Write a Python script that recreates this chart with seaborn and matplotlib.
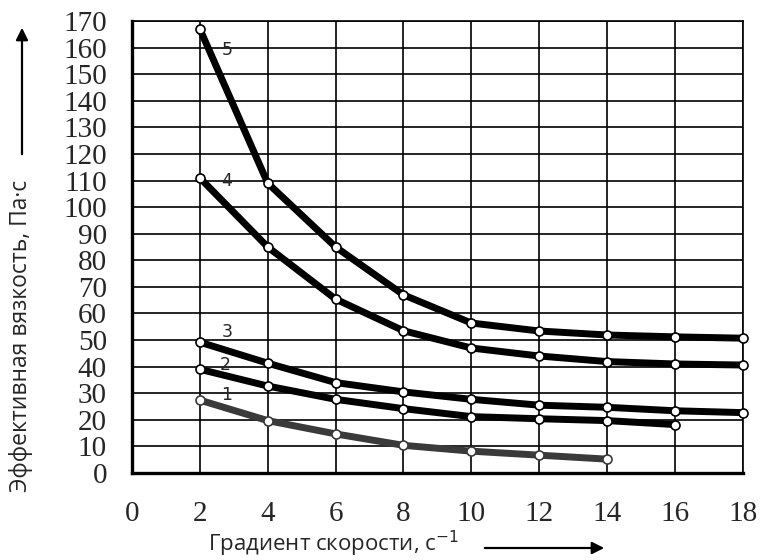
import seaborn as sns
import matplotlib.pyplot as plt
import pandas as pd

# Данные
x_vals = [2, 4, 6, 8, 10, 12, 14, 16, 18]
curve1 = [27.4, 19.7, 14.7, 10.4, 8.2, 6.7, 5.2]
curve2 = [39.0, 32.7, 27.7, 24.2, 21.2, 20.4, 19.7, 18.2]
curve3 = [49.2, 41.3, 34.0, 30.5, 27.7, 25.5, 24.7, 23.4, 22.7]
curve4 = [111.0, 85.0, 65.4, 53.5, 47.0, 44.0, 41.9, 41.0, 40.6]
curve5 = [167.0, 109.0, 85.0, 67.0, 56.4, 53.4, 51.9, 51.2, 50.7]
curve_names = ["1", "2", "3", "4", "5"]
x_ticks = list(range(0, 19, 2))
y_ticks = list(range(0, 171, 10))

rows = []
for name, vals in zip(curve_names, [curve1, curve2, curve3, curve4, curve5]):
    for xv, yv in zip(x_vals, vals):
        rows.append({"x": xv, "y": yv, "curve": name})
df = pd.DataFrame(rows)

sns.set_style("white")

fig = plt.figure(figsize=(7.65, 5.6), dpi=100)
ax = fig.add_axes([0.1725, 0.1554, 0.7985, 0.8071])

colors = {"1": "#3a3a3a", "2": "black", "3": "black", "4": "black", "5": "black"}
for name in curve_names:
    sub = df[df["curve"] == name]
    sns.lineplot(data=sub, x="x", y="y", ax=ax, color=colors[name], lw=5,
                 marker="o", markersize=6.5, markerfacecolor="white",
                 markeredgecolor=colors[name], markeredgewidth=1.2,
                 zorder=3, clip_on=False)

# подписи кривых
label_pos = {"1": (2.8, 29.5), "2": (2.75, 40.5), "3": (2.8, 53), "4": (2.8, 110), "5": (2.8, 159)}
for name, (lx, ly) in label_pos.items():
    ax.text(lx, ly, name, fontsize=12.5, family="DejaVu Sans", ha="center", va="center", zorder=4)

ax.set_xlim(0, 18)
ax.set_ylim(0, 170)
ax.set_xticks(x_ticks)
ax.set_yticks(y_ticks)
ax.grid(True, color="black", lw=1.2)
ax.set_axisbelow(True)

for side in ["top", "right"]:
    ax.spines[side].set_color("black")
    ax.spines[side].set_linewidth(1.2)
for side in ["left", "bottom"]:
    ax.spines[side].set_color("black")
    ax.spines[side].set_linewidth(2.4)

serif = ["Liberation Serif", "DejaVu Serif"]
ax.tick_params(axis="y", direction="in", length=7, width=2.2, pad=18, labelsize=21)
ax.tick_params(axis="x", direction="in", length=5, width=2.2, pad=20, labelsize=21)
for lab in ax.get_xticklabels() + ax.get_yticklabels():
    lab.set_fontfamily(serif)

ax.set_xlabel("")
ax.set_ylabel("")

# подписи осей со стрелками
fig.text(208 / 765, 1 - 544 / 560, "Градиент скорости, с$^{-1}$", fontsize=16, family="Open Sans",
         ha="left", va="center")
fig.text(21 / 765, 1 - 336 / 560, "Эффективная вязкость, Па·с", fontsize=16.5, family="Open Sans",
         rotation=90, ha="center", va="center")
ax.annotate("", xy=(607 / 765, 1 - 548 / 560), xytext=(482 / 765, 1 - 548 / 560),
            xycoords="figure fraction", textcoords="figure fraction",
            arrowprops=dict(arrowstyle="-|>", color="black", lw=1.6, mutation_scale=18))
ax.annotate("", xy=(22 / 765, 1 - 25 / 560), xytext=(22 / 765, 1 - 157 / 560),
            xycoords="figure fraction", textcoords="figure fraction",
            arrowprops=dict(arrowstyle="-|>", color="black", lw=1.6, mutation_scale=18))

fig.savefig("out.png", dpi=100)
